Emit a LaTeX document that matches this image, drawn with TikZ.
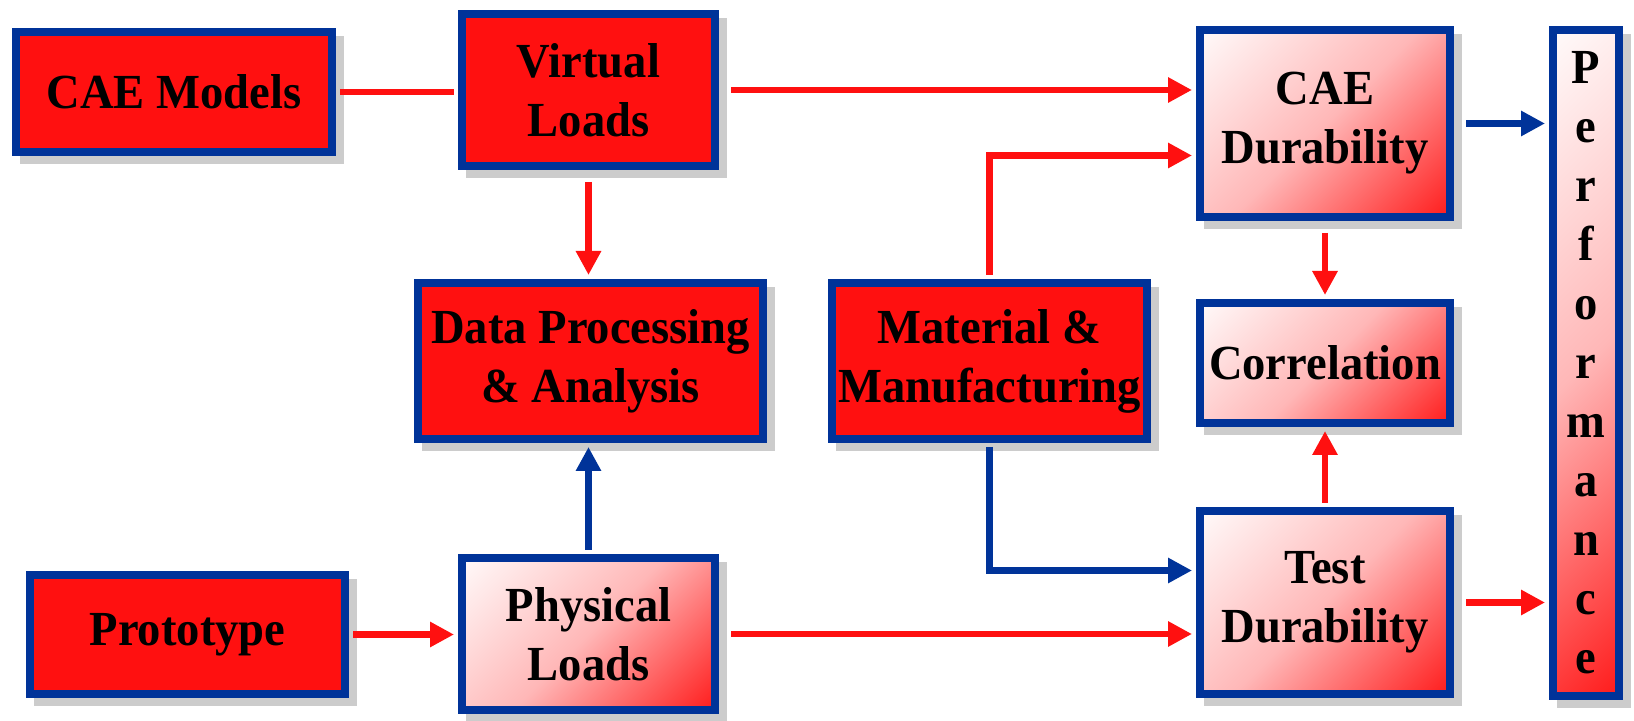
\documentclass[tikz,border=0pt]{standalone}
\usepackage{fontspec}
\setmainfont[FakeStretch=0.95]{Liberation Serif}
\usetikzlibrary{arrows.meta,shadows}
\definecolor{boxred}{RGB}{255,16,16}
\definecolor{boxblue}{RGB}{0,51,153}
\definecolor{shadowgray}{RGB}{204,204,204}
\colorlet{fadepink}{boxred!30!white}
\pgfdeclareverticalshading{fadeshade}{100bp}{color(0bp)=(boxred); color(12bp)=(boxred); color(50bp)=(fadepink); color(88bp)=(white); color(100bp)=(white)}

\begin{document}
\begin{tikzpicture}[x=0.5pt,y=-0.5pt]
\tikzstyle{main}=[rectangle, draw=boxblue, line width=4pt, inner sep=0pt, align=center, font=\fontsize{24.5}{29.5}\selectfont\bfseries, drop shadow={shadow xshift=4pt, shadow yshift=-4pt, fill=shadowgray, draw=shadowgray, opacity=1}]
\tikzstyle{hot}=[main, fill=boxred]
\tikzstyle{fade}=[main, shade, shading=fadeshade, shading angle=45]
\tikzstyle{connect}=[-{Triangle[length=12pt,width=12pt]}, line width=3.2pt, shorten >=2pt, shorten <=2pt]
\tikzstyle{redline}=[draw=boxred]
\tikzstyle{blueline}=[draw=boxblue]

  \useasboundingbox (0,0) rectangle (1634,721);

  \node[hot]  (cae)   [minimum width=158pt, minimum height=60pt]   at (174,92)     {CAE Models};
  \node[hot]  (vl)    [minimum width=126.5pt, minimum height=76pt] at (588.5,90)   {Virtual\\Loads};
  \node[hot]  (dp)    [minimum width=172.5pt, minimum height=78pt] at (590.5,361)  {Data Processing\\\& Analysis};
  \node[hot]  (mat)   [minimum width=157.5pt, minimum height=78pt] at (989.5,361)  {Material \&\\Manufacturing};
  \node[hot]  (proto) [minimum width=157.5pt, minimum height=59.5pt] at (187.5,634.5) {Prototype};

  \node[fade] (pl)    [minimum width=126.5pt, minimum height=76pt] at (588.5,634)  {Physical\\Loads};
  \node[fade] (caed)  [minimum width=125pt, minimum height=93.5pt] at (1325,123.5) {CAE\\Durability};
  \node[fade] (corr)  [minimum width=125pt, minimum height=60pt]   at (1325,363)   {Correlation};
  \node[fade] (td)    [minimum width=125pt, minimum height=91.5pt] at (1325,602.5) {Test\\Durability};
  \node[fade] (perf)  [minimum width=33pt, minimum height=333pt]   at (1586,363)   {P\\e\\r\\f\\o\\r\\m\\a\\n\\c\\e};

  \path (cae.east) edge [connect, redline, -] (cae.east -| vl.west);
  \path (vl.east) edge [connect, redline, shorten <=6pt] (vl.east -| caed.west);
  \path (vl.south) edge [connect, redline, shorten <=6pt] (vl.south |- dp.north);
  \draw [connect, redline] (mat.north) |- ([yshift=-16pt]caed.west);
  \path (caed.east) edge [connect, blueline, shorten <=6pt] (caed.east -| perf.west);
  \path (caed.south) edge [connect, redline, shorten <=6pt] (caed.south |- corr.north);
  \path (td.north) edge [connect, redline] (td.north |- corr.south);
  \draw [connect, blueline] (mat.south) |- ([yshift=16pt]td.west);
  \path (pl.east) edge [connect, redline, shorten <=6pt] (pl.east -| td.west);
  \path (proto.east) edge [connect, redline] (proto.east -| pl.west);
  \path (pl.north) edge [connect, blueline] (pl.north |- dp.south);
  \path (td.east) edge [connect, redline, shorten <=6pt] (td.east -| perf.west);

\end{tikzpicture}
\end{document}
